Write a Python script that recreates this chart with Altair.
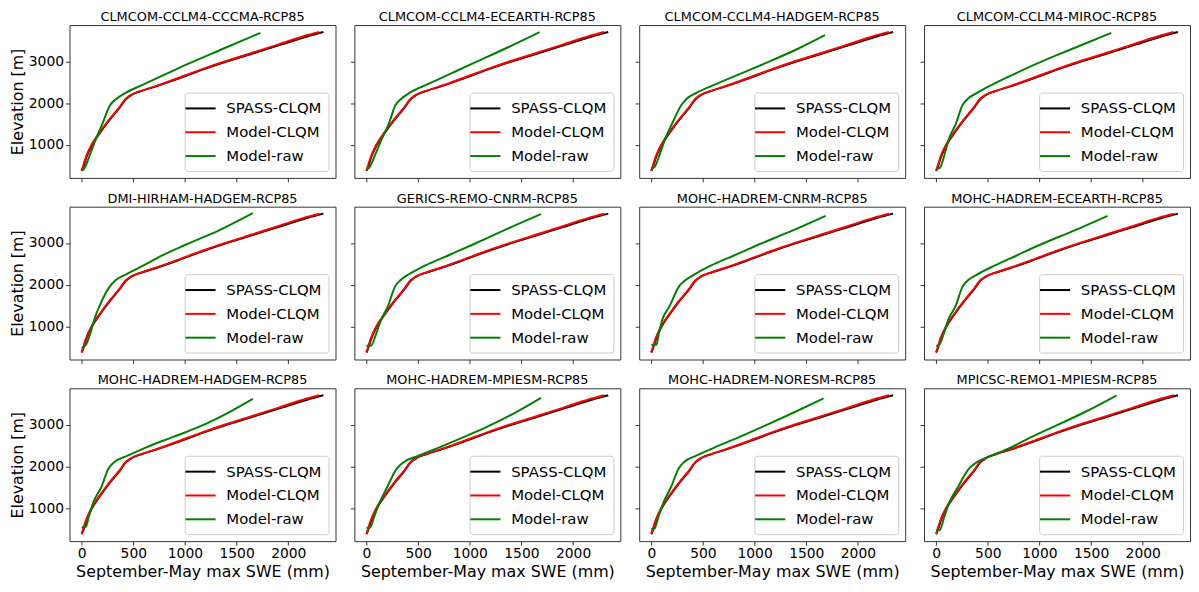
import altair as alt
import pandas as pd

PANELS = [
    "CLMCOM-CCLM4-CCCMA-RCP85", "CLMCOM-CCLM4-ECEARTH-RCP85",
    "CLMCOM-CCLM4-HADGEM-RCP85", "CLMCOM-CCLM4-MIROC-RCP85",
    "DMI-HIRHAM-HADGEM-RCP85", "GERICS-REMO-CNRM-RCP85",
    "MOHC-HADREM-CNRM-RCP85", "MOHC-HADREM-ECEARTH-RCP85",
    "MOHC-HADREM-HADGEM-RCP85", "MOHC-HADREM-MPIESM-RCP85",
    "MOHC-HADREM-NORESM-RCP85", "MPICSC-REMO1-MPIESM-RCP85",
]

SERIES = ["SPASS-CLQM", "Model-CLQM", "Model-raw"]
COLORS = ["#000000", "#ff0000", "#008000"]

# elevation bands (m) for the CLQM curves
ELEV = [380, 500, 700, 1000, 1300, 1600, 1900, 2100, 2200, 2300, 2400,
        2600, 2800, 3000, 3200, 3400, 3600, 3700]
SPASS_SWE = [0, 20, 45, 100, 180, 270, 370, 430, 485, 590, 720,
             950, 1170, 1410, 1670, 1930, 2190, 2340]
CLQM_SWE = [0, 15, 40, 95, 175, 265, 365, 425, 480, 585, 710,
            935, 1155, 1390, 1645, 1900, 2150, 2300]

# raw model curves, one per panel
RAW_ELEV = [
    [390, 420, 800, 1150, 1500, 1950, 2100, 2250, 2450, 2700, 2950, 3300, 3680],
    [422, 450, 800, 1150, 1500, 1950, 2100, 2250, 2450, 2700, 2950, 3300, 3700],
    [445, 470, 800, 1150, 1500, 1950, 2100, 2250, 2450, 2700, 2950, 3300, 3625],
    [422, 450, 800, 1150, 1500, 1950, 2100, 2250, 2450, 2700, 2950, 3300, 3680],
    [484, 560, 800, 1150, 1500, 1950, 2100, 2250, 2450, 2700, 2950, 3300, 3710],
    [540, 545, 800, 1150, 1500, 1950, 2100, 2250, 2450, 2700, 2950, 3300, 3688],
    [563, 565, 800, 1150, 1500, 1950, 2100, 2250, 2450, 2700, 2950, 3300, 3648],
    [539, 545, 800, 1150, 1500, 1950, 2100, 2250, 2450, 2700, 2950, 3300, 3648],
    [547, 550, 800, 1150, 1500, 1950, 2100, 2250, 2450, 2700, 2950, 3300, 3617],
    [531, 535, 800, 1150, 1500, 1950, 2100, 2250, 2450, 2700, 2950, 3300, 3640],
    [500, 505, 800, 1150, 1500, 1950, 2100, 2250, 2450, 2700, 2950, 3300, 3625],
    [469, 475, 800, 1150, 1500, 1950, 2100, 2250, 2450, 2700, 2950, 3300, 3695],
]
RAW_SWE = [
    [0, 20, 85, 140, 200, 275, 335, 430, 600, 820, 1040, 1370, 1730],
    [0, 25, 90, 150, 215, 280, 335, 420, 590, 810, 1030, 1340, 1676],
    [0, 30, 85, 135, 200, 290, 340, 440, 620, 860, 1100, 1420, 1682],
    [0, 35, 85, 125, 190, 255, 305, 400, 550, 760, 980, 1320, 1695],
    [0, 40, 80, 120, 175, 270, 325, 430, 590, 780, 1000, 1330, 1657],
    [0, 45, 90, 140, 210, 275, 325, 410, 560, 790, 1020, 1330, 1689],
    [0, 50, 70, 105, 180, 265, 325, 420, 570, 800, 1030, 1370, 1687],
    [0, 25, 70, 115, 190, 255, 305, 400, 560, 780, 1000, 1340, 1660],
    [0, 40, 70, 115, 190, 260, 315, 440, 620, 880, 1140, 1430, 1657],
    [0, 35, 75, 130, 200, 295, 360, 500, 700, 940, 1170, 1450, 1689],
    [0, 30, 70, 120, 190, 265, 315, 430, 610, 850, 1080, 1390, 1667],
    [0, 35, 80, 130, 210, 320, 395, 530, 720, 920, 1140, 1440, 1745],
]

X_TICKS = [0, 500, 1000, 1500, 2000]
Y_TICKS = [1000, 2000, 3000]
X_DOMAIN = [-117, 2457]
Y_DOMAIN = [212, 3867]

FONT = "DejaVu Sans"


def panel_df(i):
    rows = []
    for k, (e, s) in enumerate(zip(ELEV, SPASS_SWE)):
        rows.append({"series": SERIES[0], "elev": e, "swe": s, "ord": k})
    for k, (e, s) in enumerate(zip(ELEV, CLQM_SWE)):
        rows.append({"series": SERIES[1], "elev": e, "swe": s, "ord": k})
    for k, (e, s) in enumerate(zip(RAW_ELEV[i], RAW_SWE[i])):
        rows.append({"series": SERIES[2], "elev": e, "swe": s, "ord": k})
    return pd.DataFrame(rows)


legend = alt.Legend(
    title=None, orient="bottom-right", offset=7, padding=7,
    fillColor="white", strokeColor="#cccccc", cornerRadius=3,
    labelFontSize=15, labelFont=FONT, labelColor="#000000",
    symbolType="M-1.9,0H1.9", symbolSize=256, symbolStrokeWidth=2,
    labelOffset=17, rowPadding=7,
)


def make_panel(i, row, col):
    df = panel_df(i)
    bottom = row == 2
    left = col == 0
    x = alt.X(
        "swe:Q",
        scale=alt.Scale(domain=X_DOMAIN, nice=False, zero=False),
        axis=alt.Axis(values=X_TICKS, labels=bottom, grid=False, format="d"),
        title="September-May max SWE (mm)" if bottom else None,
    )
    y = alt.Y(
        "elev:Q",
        scale=alt.Scale(domain=Y_DOMAIN, nice=False, zero=False),
        axis=alt.Axis(values=Y_TICKS, labels=left, grid=False, format="d"),
        title="Elevation [m]" if left else None,
    )
    return (
        alt.Chart(df)
        .mark_line(strokeWidth=2, interpolate="monotone", clip=True)
        .encode(
            x=x,
            y=y,
            color=alt.Color("series:N",
                            scale=alt.Scale(domain=SERIES, range=COLORS),
                            legend=legend),
            order=alt.Order("ord:Q"),
        )
        .properties(
            width=268, height=154,
            title=alt.TitleParams(PANELS[i], fontSize=13, font=FONT,
                                  fontWeight="normal", color="#000000",
                                  offset=1, frame="group"),
        )
    )


rows = []
for r in range(3):
    panels = [make_panel(r * 4 + c, r, c) for c in range(4)]
    rows.append(alt.hconcat(*panels, spacing=13).resolve_legend(color="independent"))

chart = (
    alt.vconcat(*rows, spacing=9)
    .resolve_legend(color="independent")
    .properties(padding={"left": 0, "top": 0, "right": 0, "bottom": 0})
    .configure_view(stroke="#333333", strokeWidth=1)
    .configure_axis(
        domain=False, tickColor="#333333", tickSize=4, tickWidth=1,
        labelFont=FONT, labelFontSize=14, labelColor="#000000",
        labelPadding=2, titleFont=FONT, titleFontSize=16,
        titleFontWeight="normal", titleColor="#000000", titlePadding=3,
    )
)

chart.save("out.html", embed_options={"renderer": "svg", "actions": False})
